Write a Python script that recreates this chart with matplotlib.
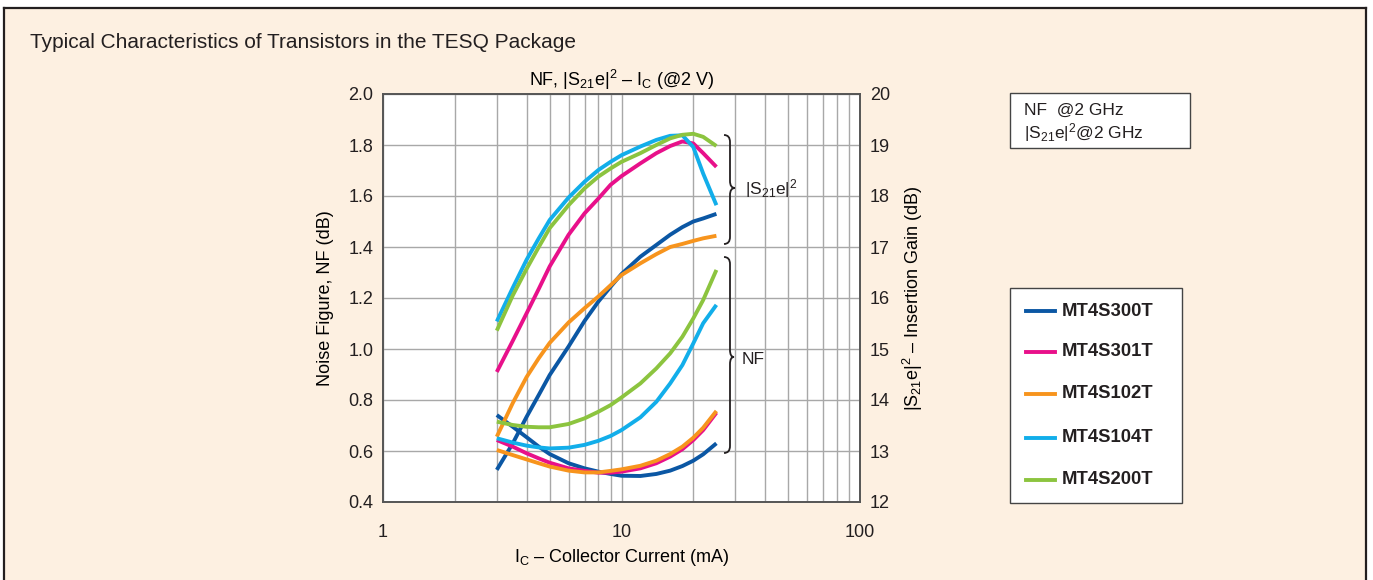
import numpy as np
import matplotlib
matplotlib.use("Agg")
import matplotlib.pyplot as plt
from matplotlib.path import Path
from matplotlib.patches import PathPatch, Rectangle
from matplotlib.lines import Line2D
from matplotlib.ticker import FixedLocator, NullFormatter, FuncFormatter

plt.rcParams['font.family'] = ['Liberation Sans', 'DejaVu Sans']
plt.rcParams['mathtext.fontset'] = 'custom'
plt.rcParams['mathtext.rm'] = 'Liberation Sans'
plt.rcParams['mathtext.it'] = 'Liberation Sans:italic'
plt.rcParams['mathtext.bf'] = 'Liberation Sans:bold'

# ---------------- data ----------------
ic_ma = [3, 3.5, 4, 4.5, 5, 6, 7, 8, 9, 10, 12, 14, 16, 18, 20, 22, 25]
devices = ["MT4S300T", "MT4S301T", "MT4S102T", "MT4S104T", "MT4S200T"]
colors = ["#0B57A4", "#E8108A", "#F7941D", "#12AEEA", "#8CC43F"]

nf_300 = [0.741, 0.695, 0.654, 0.617, 0.588, 0.552, 0.532, 0.519, 0.510, 0.503, 0.502,
          0.510, 0.523, 0.541, 0.562, 0.587, 0.630]
nf_301 = [0.643, 0.617, 0.591, 0.571, 0.554, 0.532, 0.522, 0.515, 0.515, 0.519, 0.532,
          0.552, 0.578, 0.607, 0.643, 0.682, 0.750]
nf_102 = [0.604, 0.584, 0.567, 0.552, 0.539, 0.523, 0.516, 0.516, 0.522, 0.528, 0.542,
          0.562, 0.588, 0.617, 0.652, 0.691, 0.757]
nf_104 = [0.650, 0.633, 0.621, 0.614, 0.610, 0.613, 0.624, 0.640, 0.659, 0.682, 0.732,
          0.793, 0.865, 0.937, 1.022, 1.101, 1.173]
nf_200 = [0.715, 0.702, 0.695, 0.693, 0.693, 0.706, 0.728, 0.754, 0.780, 0.810, 0.865,
          0.924, 0.983, 1.048, 1.120, 1.192, 1.310]

gain_300 = [12.63, 13.15, 13.67, 14.10, 14.49, 15.05, 15.55, 15.93, 16.22, 16.47, 16.81,
            17.04, 17.24, 17.39, 17.50, 17.56, 17.65]
gain_301 = [14.55, 15.16, 15.70, 16.18, 16.62, 17.24, 17.66, 17.95, 18.22, 18.39, 18.64,
            18.84, 18.98, 19.07, 19.03, 18.84, 18.57]
gain_102 = [13.28, 13.94, 14.45, 14.82, 15.12, 15.52, 15.80, 16.03, 16.25, 16.45, 16.68,
            16.86, 17.00, 17.06, 17.12, 17.17, 17.22]
gain_104 = [15.54, 16.20, 16.75, 17.17, 17.53, 17.97, 18.28, 18.51, 18.67, 18.80, 18.97,
            19.10, 19.18, 19.19, 18.96, 18.44, 17.82]
gain_200 = [15.36, 16.05, 16.57, 17.00, 17.37, 17.82, 18.15, 18.38, 18.54, 18.67, 18.84,
            19.00, 19.13, 19.20, 19.22, 19.16, 18.98]

nf_series = [nf_300, nf_301, nf_102, nf_104, nf_200]
gain_series = [gain_300, gain_301, gain_102, gain_104, gain_200]
draw_order = [2, 1, 4, 3, 0]

nf_ticks = [0.4, 0.6, 0.8, 1.0, 1.2, 1.4, 1.6, 1.8, 2.0]
gain_ticks = [12, 13, 14, 15, 16, 17, 18, 19, 20]
x_ticks = [1, 10, 100]

# ---------------- figure ----------------
W, H = 1373, 580
fig = plt.figure(figsize=(W / 100, H / 100), dpi=100)
fig.patch.set_facecolor("white")
BG = "#FDF0E1"
DARK = "#231F20"

# outer panel
fig.patches.append(Rectangle((4 / W, 0), (1366 - 4) / W, (H - 8) / H,
                             transform=fig.transFigure, facecolor=BG,
                             edgecolor="none", zorder=-5))
for xs, ys in [([4, 4], [8, H + 5]), ([1366, 1366], [8, H + 5]), ([4, 1366], [8, 8])]:
    fig.add_artist(Line2D([x / W for x in xs], [1 - y / H for y in ys],
                          transform=fig.transFigure, color=DARK, lw=1.6, zorder=-4))

ax_l, ax_r, ax_t, ax_b = 383, 860, 94, 502
ax = fig.add_axes([ax_l / W, 1 - ax_b / H, (ax_r - ax_l) / W, (ax_b - ax_t) / H])
ax.set_facecolor("white")
ax.set_xscale("log")
ax.set_xlim(1, 100)
ax.set_ylim(0.4, 2.0)
ax2 = ax.twinx()
ax2.set_ylim(12, 20)

GRID = "#A8A8A8"
ax.xaxis.set_major_locator(FixedLocator(x_ticks))
ax.xaxis.set_minor_locator(FixedLocator([k * d for d in (1, 10) for k in range(2, 10)]))
ax.xaxis.set_minor_formatter(NullFormatter())
ax.xaxis.set_major_formatter(FuncFormatter(lambda v, p: f"{v:g}"))
ax.set_yticks(nf_ticks)
ax.yaxis.set_major_formatter(FuncFormatter(lambda v, p: f"{v:.1f}"))
ax2.set_yticks(gain_ticks)
ax.grid(True, which="both", axis="x", color=GRID, lw=1.0)
ax.grid(True, which="major", axis="y", color=GRID, lw=1.0)
ax.set_axisbelow(True)

tick_fs = 13
ax.tick_params(axis="both", which="both", length=0, labelsize=tick_fs, colors="#231F20")
ax.tick_params(axis="x", pad=16)
ax.tick_params(axis="y", pad=7)
ax2.tick_params(axis="y", length=0, labelsize=tick_fs, pad=7, colors="#231F20")
for a in (ax, ax2):
    for s in a.spines.values():
        s.set_color("#555555")
        s.set_linewidth(1.2)

for k in draw_order:
    ax2.plot(ic_ma, nf_series[k], color=colors[k], lw=2.8, solid_capstyle="butt",
             solid_joinstyle="round", zorder=3 + k * 0.01,
             transform=ax.transData)
    ax2.plot(ic_ma, gain_series[k], color=colors[k], lw=2.8, solid_capstyle="butt",
             solid_joinstyle="round", zorder=3 + k * 0.01)

lab_fs = 13
ax.set_ylabel("Noise Figure, NF (dB)", fontsize=lab_fs, labelpad=10)
ax2.set_ylabel(r"$\mathregular{|S_{21}e|^2}$ – Insertion Gain (dB)", fontsize=lab_fs, labelpad=8)
ax.set_xlabel(r"$\mathregular{I_C}$ – Collector Current (mA)", fontsize=lab_fs, labelpad=4)
ax.set_title(r"NF, $\mathregular{|S_{21}e|^2}$ – $\mathregular{I_C}$ (@2 V)", fontsize=lab_fs, pad=6)

fig.text(30 / W, 1 - 43 / H, "Typical Characteristics of Transistors in the TESQ Package",
         fontsize=15, color=DARK, va="center", ha="left")


# braces (axes fraction coordinates)
def fx(px):
    return (px - ax_l) / (ax_r - ax_l)


def fy(py):
    return (ax_b - py) / (ax_b - ax_t)


def brace(x0, x1, x2, ytop, ymid, ybot):
    r = 7
    verts = [(fx(x0), fy(ytop)), (fx(x1), fy(ytop)), (fx(x1), fy(ytop + r)),
             (fx(x1), fy(ymid - r)), (fx(x1), fy(ymid)), (fx(x2), fy(ymid)),
             (fx(x1), fy(ymid)), (fx(x1), fy(ymid + r)),
             (fx(x1), fy(ybot - r)), (fx(x1), fy(ybot)), (fx(x0), fy(ybot))]
    codes = [Path.MOVETO, Path.CURVE3, Path.CURVE3, Path.LINETO, Path.CURVE3, Path.CURVE3,
             Path.CURVE3, Path.CURVE3, Path.LINETO, Path.CURVE3, Path.CURVE3]
    ax2.add_patch(PathPatch(Path(verts, codes), transform=ax.transAxes, facecolor="none",
                            edgecolor=DARK, lw=1.3, zorder=4, clip_on=False))


brace(724, 730, 735, 135, 188, 244)
brace(724, 730, 734, 257, 357, 453)
ax2.text(fx(745), fy(189), r"$\mathregular{|S_{21}e|^2}$", transform=ax.transAxes,
         fontsize=12.5, va="center", ha="left", color=DARK)
ax2.text(fx(742), fy(360), "NF", transform=ax.transAxes,
         fontsize=12.5, va="center", ha="left", color=DARK)

# condition box
fig.patches.append(Rectangle((1010 / W, 1 - 148 / H), 180 / W, 55 / H, transform=fig.transFigure,
                             facecolor="white", edgecolor="#444444", lw=1.0, zorder=2))
fig.text(1024 / W, 1 - 110 / H, "NF  @2 GHz", fontsize=12.5, va="center", ha="left",
         color=DARK, zorder=3)
fig.text(1024 / W, 1 - 133 / H, r"$\mathregular{|S_{21}e|^2}$@2 GHz", fontsize=12.5,
         va="center", ha="left", color=DARK, zorder=3)

# legend box
fig.patches.append(Rectangle((1010 / W, 1 - 503 / H), 172 / W, 215 / H, transform=fig.transFigure,
                             facecolor="white", edgecolor="#444444", lw=1.0, zorder=2))
row_y = [311, 352, 394, 438, 480]
for name, c, ry in zip(devices, colors, row_y):
    fig.add_artist(Line2D([1026 / W, 1055 / W], [1 - ry / H] * 2, transform=fig.transFigure,
                          color=c, lw=2.8, zorder=3))
    fig.text(1062 / W, 1 - ry / H, name, fontsize=13.3, fontweight="bold", va="center",
             ha="left", color=DARK, zorder=3)

fig.savefig("out.png", dpi=100, facecolor=fig.get_facecolor())
